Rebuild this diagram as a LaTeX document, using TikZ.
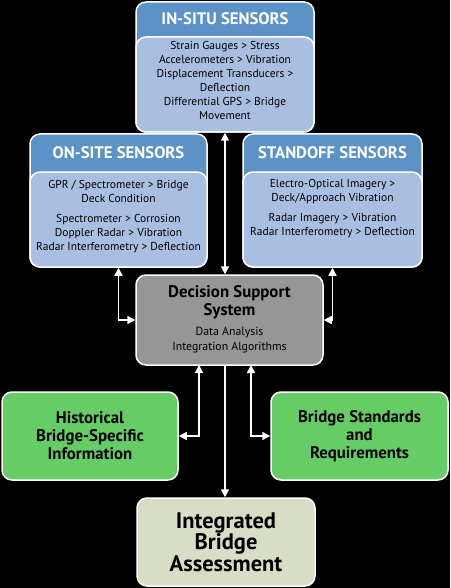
\documentclass[tikz,border=0pt]{standalone}
\usepackage{fontspec}
\setmainfont{PT Sans}
\usetikzlibrary{arrows.meta}

\definecolor{headblue}{RGB}{92,146,198}
\definecolor{bodyblue}{RGB}{169,191,226}
\definecolor{dssgrey}{RGB}{150,150,150}
\definecolor{infogreen}{RGB}{102,204,102}
\definecolor{resultbeige}{RGB}{216,222,197}

\tikzset{
  box/.style={draw=white,line width=1.5pt,rounded corners=10pt,inner sep=0pt},
  headtext/.style={text=white,font=\fontsize{16.7}{19}\selectfont\bfseries},
  bodytext/.style={align=center,font=\fontsize{11.5}{14}\selectfont},
  bigtext/.style={align=center,font=\fontsize{16.8}{18}\selectfont\bfseries},
  conn/.style={draw=white,line width=1.5pt},
  tip/.tip={Triangle[width=8pt,length=8pt]}
}

\begin{document}
\begin{tikzpicture}[x=1pt,y=1pt]

	\fill[black] (0,0) rectangle (450,-588);

	\node[box,fill=headblue,minimum width=178pt,minimum height=130pt] (insitu) at (225,-67) {};
	\node[box,fill=bodyblue,minimum width=178pt,minimum height=95pt,anchor=south] (insitubody) at (insitu.south) {};
	\node[headtext] (insituhead) at (225,-19) {IN-SITU SENSORS};
	\node[bodytext,anchor=north] (insitutext) at (225,-38) {Strain Gauges > Stress\\Accelerometers > Vibration\\Displacement Transducers >\\Deflection\\Differential GPS > Bridge\\Movement};

	\node[box,fill=headblue,minimum width=177pt,minimum height=133pt] (onsite) at (118.5,-200.5) {};
	\node[box,fill=bodyblue,minimum width=177pt,minimum height=95pt,anchor=south] (onsitebody) at (onsite.south) {};
	\node[headtext] (onsitehead) at (118.5,-153) {ON-SITE SENSORS};
	\node[bodytext,anchor=north] (onsitetext) at (118.5,-177) {GPR / Spectrometer > Bridge\\Deck Condition\\[6pt]Spectrometer > Corrosion\\Doppler Radar > Vibration\\Radar Interferometry > Deflection};

	\node[box,fill=headblue,minimum width=179pt,minimum height=133pt] (standoff) at (332.5,-200.5) {};
	\node[box,fill=bodyblue,minimum width=179pt,minimum height=95pt,anchor=south] (standoffbody) at (standoff.south) {};
	\node[headtext] (standoffhead) at (332.5,-153) {STANDOFF SENSORS};
	\node[bodytext,anchor=north] (standofftext) at (332.5,-176) {Electro-Optical Imagery >\\Deck/Approach Vibration\\[6pt]Radar Imagery > Vibration\\Radar Interferometry > Deflection};

	\node[box,fill=dssgrey,minimum width=187pt,minimum height=90pt] (dss) at (229.5,-320) {};
	\node[bigtext] (dsstitle) at (229.5,-302.5) {Decision Support\\System};
	\node[bodytext,font=\fontsize{11.8}{14.5}\selectfont] (dsstext) at (229.5,-340) {Data Analysis\\Integration Algorithms};

	\node[box,bigtext,fill=infogreen,minimum width=176pt,minimum height=88pt] (hist) at (90,-436) {Historical\\Bridge-Specific\\Information};
	\node[box,bigtext,fill=infogreen,minimum width=177pt,minimum height=88pt] (std) at (359.5,-436) {Bridge Standards\\and\\Requirements};
	\node[box,bigtext,fill=resultbeige,minimum width=178pt,minimum height=88pt,font=\fontsize{22.5}{21.5}\selectfont\bfseries] (integ) at (226,-542) {Integrated\\Bridge\\Assessment};

	\coordinate (histtap) at (199,-365);
	\coordinate (stdtap) at (251,-365);

	\draw[conn,tip-tip] (insitu.south) -- (insitu.south |- dss.north);
	\draw[conn,tip-tip] (onsite.south) |- (dss.west);
	\draw[conn,tip-tip] (standoff.south) |- (dss.east);
	\draw[conn,tip-tip] (histtap) |- (hist.east);
	\draw[conn,tip-tip] (stdtap) |- (std.west);
	\draw[conn,-tip] (insitu.south |- dss.south) -- (insitu.south |- integ.north);

\end{tikzpicture}
\end{document}
